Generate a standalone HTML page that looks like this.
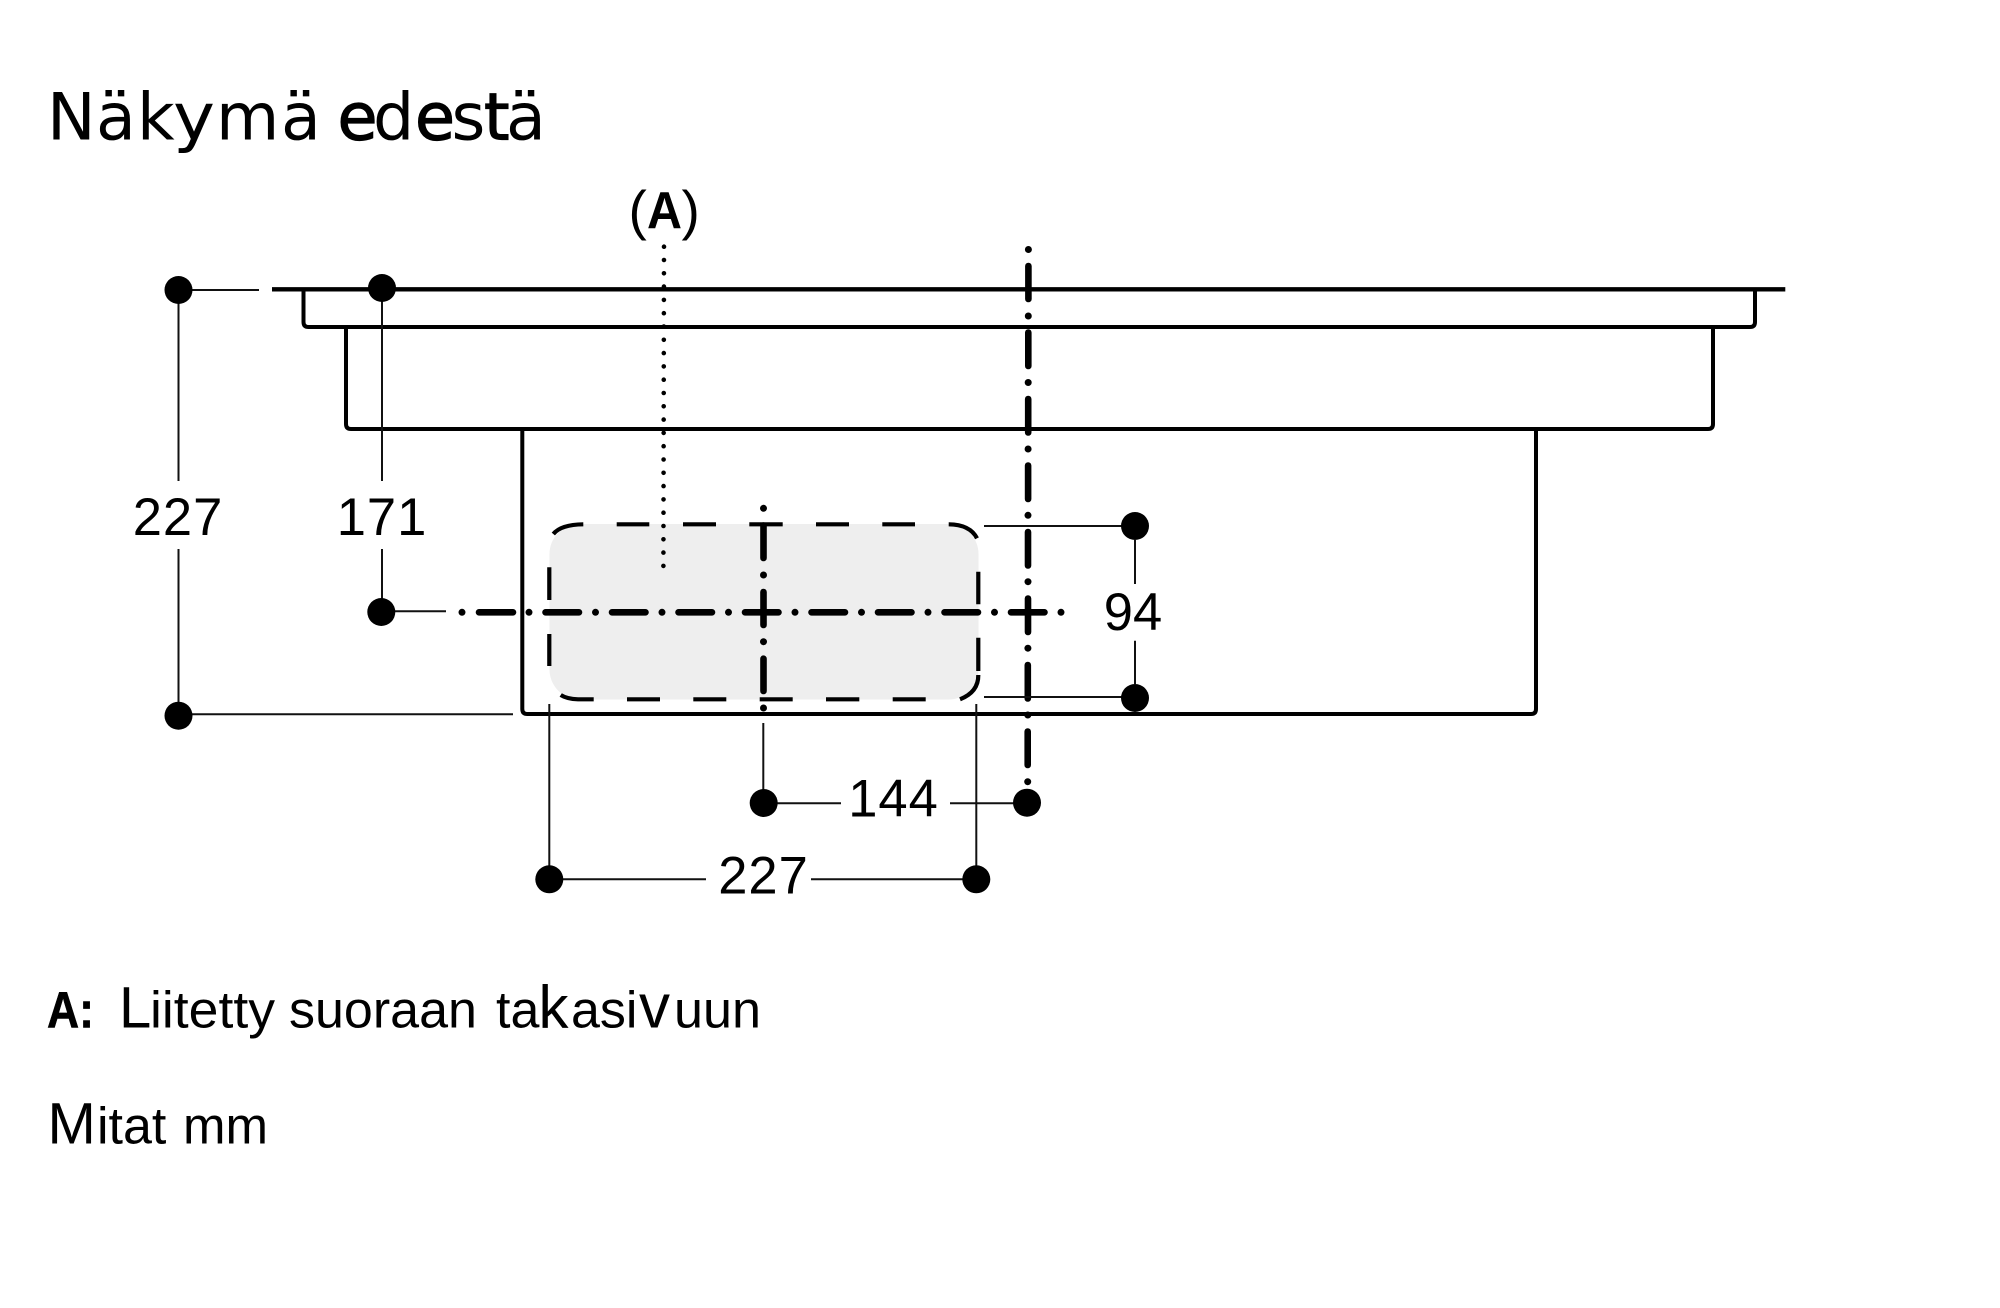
<!DOCTYPE html>
<html><head><meta charset="utf-8"><style>
html,body{margin:0;padding:0;background:#fff}
svg{display:block}
text{font-family:"Liberation Sans",sans-serif;fill:#000}
.d{font-size:52.5px;text-anchor:middle;letter-spacing:1px}
.t{font-family:"DejaVu Sans",sans-serif;font-size:65px}
.b{stroke:#000;stroke-width:1.2px}
.s{font-size:52px}
</style></head><body>
<svg width="2000" height="1308" viewBox="0 0 2000 1308" xmlns="http://www.w3.org/2000/svg">
<rect width="2000" height="1308" fill="#fff"/>
<text class="t" x="47" y="139.5">N</text><text class="t" x="96" y="139.5">ä</text><text class="t" x="137" y="139.5">k</text><text class="t" x="173" y="139.5" textLength="42" lengthAdjust="spacingAndGlyphs">y</text><text class="t" x="216" y="139.5">m</text><text class="t" x="281" y="139.5">ä</text>
<text class="t b" x="337.5" y="139.5">e</text><text class="t" x="373" y="139.5">d</text><text class="t b" x="415" y="139.5">e</text><text class="t" x="451.5" y="139.5">s</text><text class="t b" x="484" y="139.5">t</text><text class="t" x="506" y="139.5">ä</text>

<text x="628.5" y="229" font-size="55">(</text>
<text x="647" y="228" font-size="52" font-weight="bold" textLength="35" lengthAdjust="spacingAndGlyphs">A</text>
<text x="681.5" y="229" font-size="55">)</text>

<rect x="549.5" y="524" width="429" height="175.5" rx="30" ry="30" fill="#eeeeee"/>

<g fill="none" stroke="#000" stroke-width="4">
<path d="M272 289.3H1785.3" stroke-width="4.4"/>
<path d="M303.5 289V322q0 5 5 5H1750q5 0 5-5V289"/>
<path d="M346 327V424q0 5 5 5H1708q5 0 5-5V327"/>
<path d="M522.3 429V709q0 5 5 5H1531q5 0 5-5V429"/>
</g>

<g fill="none" stroke="#000" stroke-width="4.2">
<path d="M553.3 534Q561 524.5 583.3 524.3"/>
<path d="M616.7 524.3H649.3M683 524.3H716M749.3 524.3H782.7M816 524.3H849M882.3 524.3H915"/>
<path d="M948.7 524.3Q970 524.5 977 538.3"/>
<path d="M549.3 567.3V600M549.3 634V666"/>
<path d="M978.3 571.7V604.3M978.3 637.7V671"/>
<path d="M978.3 675Q978.5 692 960 699.3"/>
<path d="M925.7 699.3H892.7M859.3 699.3H826M792.7 699.3H759.7M726.3 699.3H693.3M660 699.3H627M593.7 699.3H578Q567 699 560.7 695"/>
</g>

<line x1="664" y1="246.7" x2="663.4" y2="566" stroke="#000" stroke-width="4.6" stroke-linecap="round" stroke-dasharray="0 13.3"/>

<g stroke="#000" stroke-width="6.6" stroke-linecap="round" fill="none">
<path d="M479 612.3H513M545.5 612.3H579M612 612.3H645.5M678.5 612.3H712M745 612.3H778.5M811.5 612.3H845M878 612.3H911.5M944.5 612.3H978M1011 612.3H1044.5"/>
<path d="M1028.4 266V299M1028.3 332.5V366M1028.2 399V432.5M1028.1 465.5V499M1028 532V565.5M1028 598.5V632M1027.8 665V698.5M1027.7 731.5V765"/>
<path d="M763.5 525.5V558M763.5 592V625M763.5 658.7V691"/>
</g>
<g fill="#000">
<circle cx="462" cy="612.3" r="3.5"/><circle cx="529" cy="612.3" r="3.5"/><circle cx="595.5" cy="612.3" r="3.5"/><circle cx="662" cy="612.3" r="3.5"/><circle cx="728.5" cy="612.3" r="3.5"/><circle cx="795" cy="612.3" r="3.5"/><circle cx="861.5" cy="612.3" r="3.5"/><circle cx="928" cy="612.3" r="3.5"/><circle cx="994.5" cy="612.3" r="3.5"/><circle cx="1061" cy="612.3" r="3.5"/>
<circle cx="1028.4" cy="249.5" r="3.5"/><circle cx="1028.3" cy="316" r="3.5"/><circle cx="1028.2" cy="382.5" r="3.5"/><circle cx="1028.1" cy="449" r="3.5"/><circle cx="1028" cy="515.3" r="3.5"/><circle cx="1028" cy="581.7" r="3.5"/><circle cx="1027.9" cy="648.2" r="3.5"/><circle cx="1027.8" cy="715" r="3.5"/><circle cx="1027.7" cy="781.7" r="3.5"/>
<circle cx="763.5" cy="508.3" r="3.5"/><circle cx="763.5" cy="575" r="3.5"/><circle cx="763.5" cy="641.7" r="3.5"/><circle cx="763.5" cy="708" r="3.5"/>
</g>

<g stroke="#111" stroke-width="2" fill="none">
<path d="M192 290H259"/>
<path d="M178.5 290V481M178.5 549V715"/>
<path d="M382 288V481M382 549V600"/>
<path d="M192 714.3H513"/>
<path d="M395 611.3H446"/>
<path d="M984 526H1135M984 697H1135"/>
<path d="M1135 540V584M1135 640.7V684"/>
<path d="M763.3 723V803"/>
<path d="M763 803.3H841M950 803.3H1027"/>
<path d="M549.3 704V879M976.3 704V879"/>
<path d="M549 879.3H706M811 879.3H976"/>
</g>

<g fill="#000">
<circle cx="178.5" cy="290" r="14"/>
<circle cx="382" cy="288" r="14"/>
<circle cx="381.3" cy="612" r="14"/>
<circle cx="178.5" cy="715.7" r="14"/>
<circle cx="1135" cy="526" r="14"/>
<circle cx="1135" cy="698" r="14"/>
<circle cx="763.7" cy="803" r="14"/>
<circle cx="1027" cy="802.7" r="14"/>
<circle cx="549.3" cy="879.3" r="14"/>
<circle cx="976.3" cy="879.3" r="14"/>
</g>

<text class="d" x="178" y="535">227</text>
<text class="d" x="382" y="535">171</text>
<text class="d" x="1133" y="630" style="letter-spacing:0">94</text>
<text class="d" x="893.5" y="816.7">144</text>
<text class="d" x="763.5" y="893.3">227</text>

<text x="47" y="1027.3" font-size="51" font-weight="bold" textLength="47" lengthAdjust="spacingAndGlyphs" stroke="#000" stroke-width="0.6">A:</text>
<text x="119" y="1027.3" font-size="58">L</text>
<text class="s" x="150" y="1027.3" textLength="125" lengthAdjust="spacingAndGlyphs">iitetty</text>
<text class="s" x="289" y="1027.3">suoraan</text>
<text class="s" x="496" y="1027.3">ta</text>
<text x="538.5" y="1027.3" font-size="60">k</text>
<text class="s" x="571" y="1027.3">asi</text>
<text x="639" y="1027.3" font-size="62">v</text>
<text class="s" x="674" y="1027.3" textLength="87" lengthAdjust="spacingAndGlyphs">uun</text>
<text x="47.5" y="1143.3" font-size="58">M</text>
<text class="s" x="97" y="1143.3">itat</text>
<text class="s" x="183" y="1143.3" textLength="85" lengthAdjust="spacingAndGlyphs">mm</text>
</svg>
</body></html>
